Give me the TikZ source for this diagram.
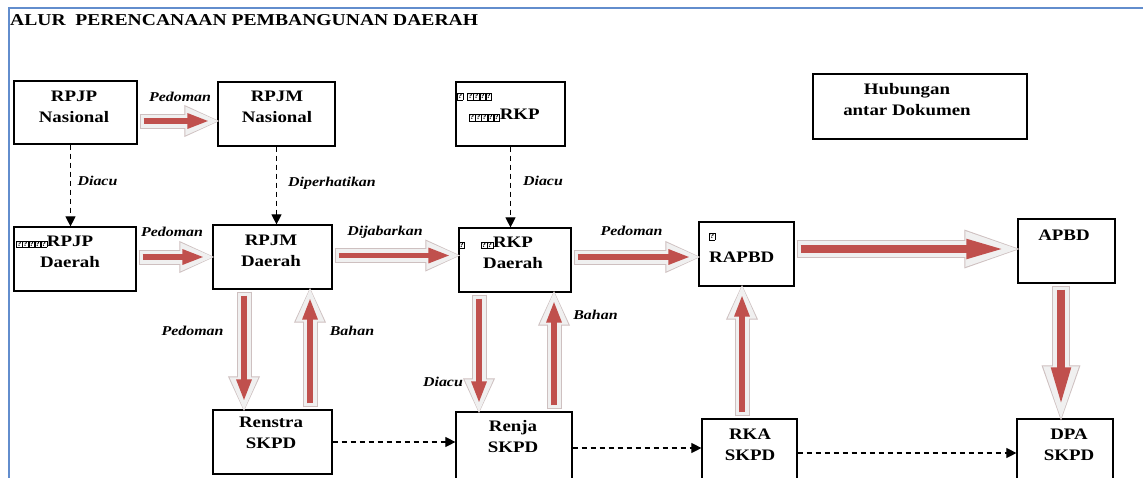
\documentclass[tikz,border=0pt]{standalone}
\usepackage{fontspec}
\setmainfont{Liberation Serif}[FakeStretch=1.18]
\usetikzlibrary{arrows.meta}

\definecolor{arrowred}{RGB}{192,80,77}
\definecolor{glow}{RGB}{240,240,240}
\definecolor{glowedge}{RGB}{206,192,192}
\definecolor{frameblue}{RGB}{98,141,205}

% missing-glyph boxes as printed in the source
\newcommand{\tofu}[1]{{\fontsize{7}{7}\selectfont\setlength{\fboxsep}{0.6pt}\setlength{\fboxrule}{0.4pt}\foreach\ti in {1,...,#1}{\fbox{?}}}}

\tikzset{
  box/.style={draw, line width=1.2pt, inner sep=0pt},
  boxtext/.style={font=\fontsize{16}{21}\selectfont\bfseries, align=center, inner sep=0pt},
  lbl/.style={font=\fontsize{13.5}{16}\selectfont\bfseries\itshape, inner sep=0pt, anchor=base},
  dashline/.style={draw, line width=1.1pt, dash pattern=on 5.5pt off 3.5pt, -{Triangle[length=10pt,width=10pt]}},
  block/.style={draw=arrowred, line width=5.5pt, -{Triangle[length=22pt,width=14pt]},
    shorten <=6pt, shorten >=8pt,
    preaction={draw=glowedge, line width=15pt, -{Triangle[length=36pt,width=29pt]}, shorten <=2pt, shorten >=-3pt},
    preaction={draw=glow, line width=13pt, -{Triangle[length=34pt,width=26pt]}, shorten <=3pt, shorten >=-2pt}},
  bigblock/.style={draw=arrowred, line width=7.5pt, -{Triangle[length=38pt,width=18pt]},
    shorten <=6pt, shorten >=13pt,
    preaction={draw=glowedge, line width=18pt, -{Triangle[length=62pt,width=33pt]}, shorten <=2pt, shorten >=-9pt},
    preaction={draw=glow, line width=16pt, -{Triangle[length=60pt,width=30pt]}, shorten <=3pt, shorten >=-8pt}}
}

\begin{document}
\begin{tikzpicture}[x=1pt, y=1pt]
    \useasboundingbox (0,0) rectangle (1143,-477);
    \clip (0,0) rectangle (1143,-477);
    \fill[white] (0,0) rectangle (1143,-477);
    \draw[frameblue, line width=2pt] (9,-490) -- (9,-8) -- (1150,-8);
    \node[anchor=base west, font=\fontsize{16.6}{20}\selectfont\bfseries, inner sep=0pt] (title) at (10,-25) {ALUR\ \ PERENCANAAN PEMBANGUNAN DAERAH};

    % boxes
    \node[box, minimum width=123pt, minimum height=63pt] (rpjpn) at (75.5,-112.5) {};
    \node[box, minimum width=117pt, minimum height=64pt] (rpjmn) at (276.5,-114) {};
    \node[box, minimum width=109pt, minimum height=64pt] (rkp) at (510.5,-114) {};
    \node[box, minimum width=214pt, minimum height=65pt] (hub) at (920,-106.5) {};
    \node[box, minimum width=122pt, minimum height=64pt] (rpjpd) at (75,-259) {};
    \node[box, minimum width=119pt, minimum height=64pt] (rpjmd) at (272.5,-257) {};
    \node[box, minimum width=112pt, minimum height=64pt] (rkpd) at (515,-260) {};
    \node[box, minimum width=95pt, minimum height=64pt] (rapbd) at (746.5,-254) {};
    \node[box, minimum width=97pt, minimum height=64pt] (apbd) at (1066.5,-251) {};
    \node[box, minimum width=119pt, minimum height=64pt] (renstra) at (272.5,-442) {};
    \node[box, minimum width=116pt, minimum height=72pt] (renja) at (514,-448) {};
    \node[box, minimum width=95pt, minimum height=68pt] (rka) at (749.5,-453) {};
    \node[box, minimum width=96pt, minimum height=68pt] (dpa) at (1065,-453) {};

    % box texts
    \node[boxtext] (rpjpn-t) at (74,-106.5) {RPJP\\Nasional};
    \node[boxtext] (rpjmn-t) at (277,-106.5) {RPJM\\Nasional};
    \node[boxtext, align=left, anchor=north west] (rkp-t) at (457,-93) {\tofu{1}\hspace{4pt}\tofu{4}\\\hspace*{12pt}\tofu{5}RKP};
    \node[boxtext] (hub-t) at (907,-100) {Hubungan\\antar Dokumen};
    \node[boxtext] (rpjpd-t) at (70,-251.5) {\llap{\tofu{5}}RPJP\\Daerah};
    \node[boxtext] (rpjmd-t) at (271,-250.5) {RPJM\\Daerah};
    \node[boxtext] (rkpd-t) at (513,-253) {\llap{\tofu{1}\hspace{16pt}\tofu{2}}RKP\\Daerah};
    \node[boxtext, align=left, anchor=north west] (rapbd-t) at (709,-233) {\tofu{1}\\[3pt]RAPBD};
    \node[boxtext] (apbd-t) at (1064,-235.5) {APBD};
    \node[boxtext] (renstra-t) at (271,-433) {Renstra\\SKPD};
    \node[boxtext] (renja-t) at (513,-436.5) {Renja\\SKPD};
    \node[boxtext] (rka-t) at (750,-444.5) {RKA\\SKPD};
    \node[boxtext] (dpa-t) at (1069,-444.5) {DPA\\SKPD};

    % dashed links
    \draw[dashline] ([xshift=-5pt]rpjpn.south) -- ([xshift=-5pt]rpjpn.south |- rpjpd.north);
    \draw[dashline] (rpjmn.south) -- (rpjmn.south |- rpjmd.north);
    \draw[dashline] (rkp.south) -- (rkp.south |- rkpd.north);
    \draw[dashline] (renstra.east) -- (renstra.east -| renja.west);
    \draw[dashline] (renja.east) -- (renja.east -| rka.west);
    \draw[dashline] (rka.east) -- (rka.east -| dpa.west);

    % block arrows
    \draw[block] ([yshift=-8.5pt]rpjpn.east) -- ([yshift=-8.5pt]rpjpn.east -| rpjmn.west);
    \draw[block] ([yshift=2pt]rpjpd.east) -- ([yshift=2pt]rpjpd.east -| rpjmd.west);
    \draw[block] ([yshift=1.5pt]rpjmd.east) -- ([yshift=1.5pt]rpjmd.east -| rkpd.west);
    \draw[block] ([yshift=3pt]rkpd.east) -- ([yshift=3pt]rkpd.east -| rapbd.west);
    \draw[bigblock] ([yshift=5pt]rapbd.east) -- ([yshift=5pt]rapbd.east -| apbd.west);
    \draw[block] ([xshift=-28.5pt]rpjmd.south) -- ([xshift=-28.5pt]rpjmd.south |- renstra.north);
    \draw[block] ([xshift=37.5pt]renstra.north) -- ([xshift=37.5pt]renstra.north |- rpjmd.south);
    \draw[block] ([xshift=-36pt]rkpd.south) -- ([xshift=-36pt]rkpd.south |- renja.north);
    \draw[block] ([xshift=40pt]renja.north) -- ([xshift=40pt]renja.north |- rkpd.south);
    \draw[block] ([xshift=-7.5pt]rka.north) -- ([xshift=-7.5pt]rka.north |- rapbd.south);
    \draw[bigblock] ([xshift=-5.5pt]apbd.south) -- ([xshift=-5.5pt]apbd.south |- dpa.north);

    % labels
    \node[lbl] (l-ped1) at (180,-101.7) {Pedoman};
    \node[lbl] (l-diacu1) at (97.5,-185.7) {Diacu};
    \node[lbl] (l-diper) at (332,-186) {Diperhatikan};
    \node[lbl] (l-ped2) at (172,-236) {Pedoman};
    \node[lbl] (l-dijab) at (385,-235.7) {Dijabarkan};
    \node[lbl] (l-diacu2) at (543,-185.7) {Diacu};
    \node[lbl] (l-ped3) at (631.5,-235.7) {Pedoman};
    \node[lbl] (l-ped4) at (192.5,-335) {Pedoman};
    \node[lbl] (l-bahan1) at (352,-335) {Bahan};
    \node[lbl] (l-diacu3) at (443,-386) {Diacu};
    \node[lbl] (l-bahan2) at (595.5,-319) {Bahan};
\end{tikzpicture}
\end{document}
